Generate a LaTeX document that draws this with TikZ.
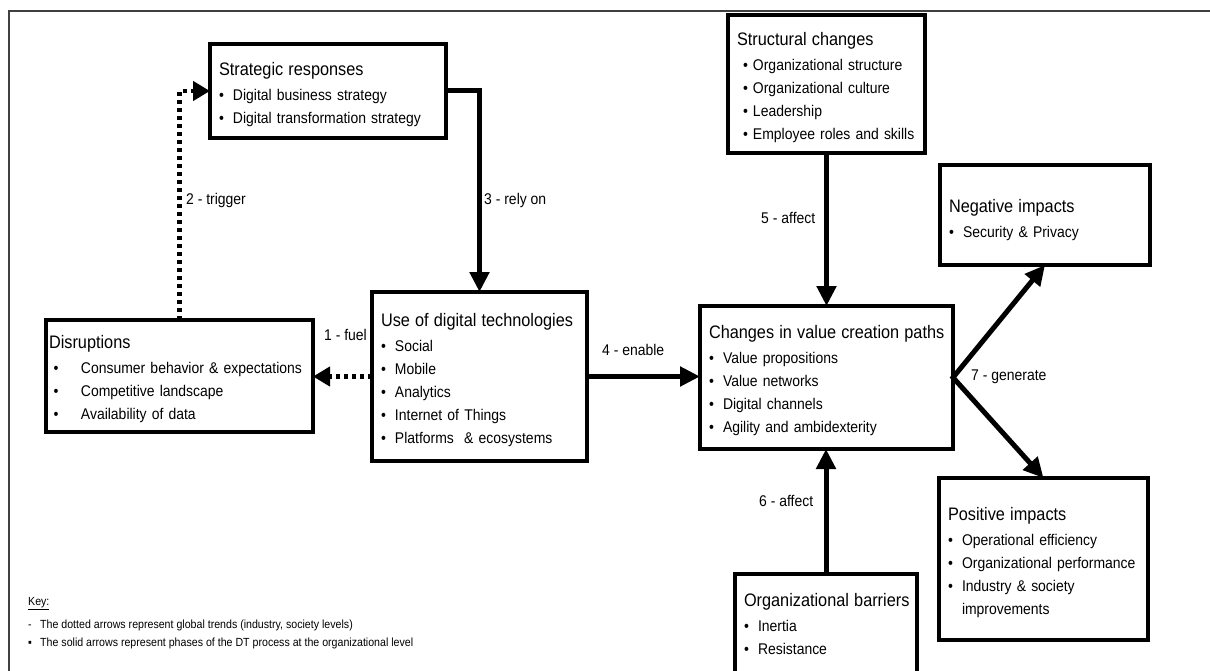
\documentclass[tikz,border=0pt]{standalone}
\usepackage{fontspec}
\setmainfont[FakeStretch=0.9]{Liberation Sans}
\usetikzlibrary{arrows.meta,positioning}
\newcommand{\dttitle}[1]{\rule{0pt}{20pt}{\fontsize{18.1}{23}\selectfont\mbox{#1}}\\[2pt]}
\newcommand{\dtitem}[2][14pt]{\makebox[#1][l]{\textbullet}\mbox{#2}}
\tikzset{dtbox/.style={draw, line width=3.5pt, outer sep=0pt, inner xsep=9pt,
  inner ysep=0pt, align=left, anchor=north west, font=\fontsize{15.5}{23}\selectfont},
  dtarrow/.style={-{Triangle[length=20pt,width=19pt]}, line width=5pt},
  trendarrow/.style={-{Triangle[length=17pt,width=19pt]}, line width=4.5pt,
  dash pattern=on 4pt off 4pt},
  dtlabel/.style={anchor=west, inner sep=0pt, font=\fontsize{15.5}{17}\selectfont},
  keytext/.style={anchor=west, inner sep=0pt, font=\fontsize{11.8}{13}\selectfont},
  dt/.style={x=1pt, y=-1pt}}

\begin{document}
\begin{tikzpicture}[dt]
    \useasboundingbox (0,0) rectangle (1210,671);
    \draw[line width=1.2pt, black!75] (9,675) -- (9,11) -- (1214,11);

    \node[dtbox, text width=218pt, minimum height=94pt] (strat) at (210,44)
      {\dttitle{Strategic responses}\dtitem{Digital business strategy}\\\dtitem{Digital transformation strategy}};
    \node[dtbox, text width=197pt, minimum height=169pt] (use) at (372,292)
      {\dttitle{Use of digital technologies}\dtitem{Social}\\\dtitem{Mobile}\\\dtitem{Analytics}\\
       \dtitem{Internet of Things}\\\dtitem{Platforms \ \& ecosystems}};
    \node[dtbox, inner xsep=3pt, text width=261pt, minimum height=112pt] (dis) at (46,320)
      {\dttitle{Disruptions}\hspace*{4.5pt}\dtitem[27.5pt]{Consumer behavior \& expectations}\\
       \hspace*{4.5pt}\dtitem[27.5pt]{Competitive landscape}\\\hspace*{4.5pt}\dtitem[27.5pt]{Availability of data}};
    \node[dtbox, text width=235pt, minimum height=143pt] (chg) at (700,306)
      {\dttitle{Changes in value creation paths}\dtitem{Value propositions}\\\dtitem{Value networks}\\
       \dtitem{Digital channels}\\\dtitem{Agility and ambidexterity}};
    \node[dtbox, text width=179pt, minimum height=138pt] (struc) at (728,15)
      {\dttitle{Structural changes}\hspace*{6pt}\dtitem[10pt]{Organizational structure}\\
       \hspace*{6pt}\dtitem[10pt]{Organizational culture}\\\hspace*{6pt}\dtitem[10pt]{Leadership}\\
       \hspace*{6pt}\dtitem[10pt]{Employee roles and skills}};
    \node[dtbox, text width=192pt, minimum height=100pt] (neg) at (940,165)
      {\rule{0pt}{6pt}\\[-6pt]\dttitle{Negative impacts}\dtitem{Security \& Privacy}};
    \node[dtbox, text width=191pt, minimum height=162pt] (pos) at (939,478)
      {\dttitle{Positive impacts}\dtitem{Operational efficiency}\\\dtitem{Organizational performance}\\
       \dtitem{Industry \& society}\\\hspace*{14pt}improvements};
    \node[dtbox, text width=164pt, minimum height=101pt] (bar) at (735,574)
      {\dttitle{Organizational barriers}\dtitem{Inertia}\\\dtitem{Resistance}\rule[-8pt]{0pt}{8pt}};

    \draw[trendarrow] (use.west) -- (use.west -| dis.east);
    \draw[trendarrow] (dis.north) |- (strat.west);
    \draw[dtarrow] (strat.east) -| (use.north);
    \draw[dtarrow] (use.east) -- (use.east -| chg.west);
    \draw[dtarrow] (struc.south) -- (chg.north);
    \draw[dtarrow] (bar.north) -- (bar.north |- chg.south);
    \draw[dtarrow, {Triangle[length=20pt,width=19pt]}-{Triangle[length=20pt,width=19pt]}]
      (neg.south) -- (chg.east) -- (pos.north);

    \node[dtlabel] (l1) at (324,335) {1 - fuel};
    \node[dtlabel] (l2) at (186,200) {2 - trigger};
    \node[dtlabel] (l3) at (484,200) {3 - rely on};
    \node[dtlabel] (l4) at (602,350) {4 - enable};
    \node[dtlabel] (l5) at (761,218) {5 - affect};
    \node[dtlabel] (l6) at (759,501) {6 - affect};
    \node[dtlabel] (l7) at (971,377) {7 - generate};

    \node[keytext] (key) at (28,604) {\underline{Key:}};
    \node[keytext] (k1) at (28,625) {\makebox[12pt][l]{-}The dotted arrows represent global trends (industry, society levels)};
    \node[keytext] (k2) at (28,643) {\makebox[12pt][l]{▪}The solid arrows represent phases of the DT process at the organizational level};
  \end{tikzpicture}
\end{document}
